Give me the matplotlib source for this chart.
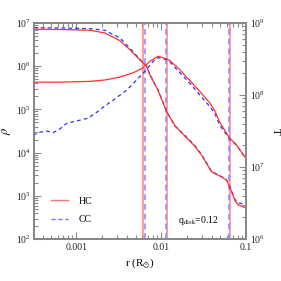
import numpy as np
import matplotlib
matplotlib.use("Agg")
import matplotlib.pyplot as plt
from matplotlib.lines import Line2D

plt.rcParams['font.family'] = ['Liberation Serif', 'DejaVu Serif']
plt.rcParams['mathtext.fontset'] = 'stix'

# density profiles (left axis)
r_rho = [3.16e-4, 6.41e-4, 1.45e-3, 2.17e-3, 3.27e-3, 4.29e-3, 5.62e-3, 6.75e-3,
         7.38e-3, 9.16e-3, 1.16e-2, 1.46e-2, 2.00e-2, 2.51e-2, 3.01e-2, 3.94e-2,
         5.16e-2, 5.92e-2, 6.47e-2, 7.41e-2, 8.11e-2, 9.29e-2, 0.1]
rho_hc = [7.2e6, 7.1e6, 6.8e6, 5.9e6, 3.9e6, 2.4e6, 1.4e6, 1.0e6,
          6.3e5, 2.8e5, 8.9e4, 4.2e4, 2.2e4, 1.4e4, 8.7e3, 3.6e3,
          2.75e3, 2.3e3, 1.6e3, 7.9e2, 6.2e2, 5.6e2, 5.2e2]
rho_cc = [7.8e6, 7.7e6, 7.4e6, 6.8e6, 4.5e6, 2.6e6, 1.45e6, 1.0e6,
          6.4e5, 2.9e5, 9.0e4, 4.1e4, 2.3e4, 1.45e4, 8.9e3, 3.7e3,
          2.8e3, 2.35e3, 1.65e3, 8.3e2, 6.9e2, 6.5e2, 6.3e2]

# temperature profiles (right axis)
r_t_hc = [3.16e-4, 6.41e-4, 1.45e-3, 2.17e-3, 3.27e-3, 4.69e-3, 6.15e-3, 7.38e-3,
          9.25e-3, 1.16e-2, 1.27e-2, 1.67e-2, 2.19e-2, 2.87e-2, 3.76e-2, 4.31e-2,
          4.93e-2, 5.92e-2, 6.47e-2, 7.76e-2, 0.1]
t_hc = [1.51e8, 1.51e8, 1.55e8, 1.62e8, 1.78e8, 2.04e8, 2.40e8, 2.95e8,
        3.47e8, 3.16e8, 3.02e8, 2.24e8, 1.58e8, 1.12e8, 7.76e7, 6.03e7,
        4.17e7, 2.95e7, 2.51e7, 2.04e7, 1.32e7]

r_t_cc = [3.10e-4, 3.56e-4, 4.47e-4, 5.35e-4, 6.41e-4, 7.69e-4, 1.01e-3, 1.38e-3,
          1.73e-3, 2.17e-3, 2.72e-3, 3.92e-3, 5.14e-3, 6.44e-3, 8.07e-3, 9.25e-3,
          1.16e-2, 1.27e-2, 1.67e-2, 2.19e-2, 2.87e-2, 3.76e-2, 4.31e-2, 4.93e-2,
          5.92e-2, 6.47e-2, 7.76e-2, 0.1]
t_cc = [2.75e7, 3.02e7, 3.16e7, 3.02e7, 3.39e7, 4.07e7, 4.37e7, 4.79e7,
        5.75e7, 7.08e7, 8.51e7, 1.17e8, 1.62e8, 2.14e8, 2.95e8, 3.31e8,
        3.09e8, 2.88e8, 2.04e8, 1.45e8, 1.0e8, 6.92e7, 5.50e7, 3.80e7,
        2.82e7, 2.45e7, 2.0e7, 1.32e7]

# vertical markers
vlines_hc = [6.15e-3, 1.17e-2, 6.47e-2]
vlines_cc = [6.44e-3, 1.15e-2, 6.38e-2]

grey = '#888888'
red = '#ff3030'
blue = '#3030ff'

fig = plt.figure(figsize=(2.81, 2.81), dpi=100)
ax = fig.add_axes([0.121, 0.149, 0.754, 0.769])
ax2 = ax.twinx()

for v in vlines_hc:
    ax.axvline(v, color='#ff7070', lw=1.2, alpha=0.8)
for v in vlines_cc:
    ax.axvline(v, color='#8888ff', lw=1.4, ls=(0, (3, 2)), alpha=0.8)

ax.plot(r_rho, rho_cc, color=blue, lw=0.9, ls=(0, (3, 2.5)))
ax.plot(r_rho, rho_hc, color=red, lw=0.9)
ax2.plot(r_t_cc, t_cc, color=blue, lw=0.9, ls=(0, (3, 2.5)))
ax2.plot(r_t_hc, t_hc, color=red, lw=0.9)

ax.set_xscale('log')
ax.set_yscale('log')
ax2.set_yscale('log')
ax.set_xlim(10**-3.5, 0.1)
ax.set_ylim(1e2, 1e7)
ax2.set_ylim(1e6, 1e9)

ax.set_xticks([0.001, 0.01, 0.1])
ax.set_xticklabels(['0.001', '0.01', '0.1'])

for a in (ax, ax2):
    for s in a.spines.values():
        s.set_color(grey)
        s.set_linewidth(1.3)
    a.tick_params(which='both', direction='in', color=grey, width=0.8,
                  labelsize=7, labelcolor='#222222')
    a.tick_params(which='major', length=5)
    a.tick_params(which='minor', length=3)
ax.tick_params(which='both', top=True, right=False)
ax.tick_params(axis='x', pad=3)
ax.tick_params(axis='y', pad=2)
ax2.tick_params(axis='y', pad=3)

ax.set_xlabel(r'r (R$_{\odot}$)', fontsize=8, labelpad=3)
ax.set_ylabel(r'$\rho$', fontsize=9, labelpad=2)
ax2.set_ylabel('T', fontsize=8, rotation=270, labelpad=11)

ax.text(0.68, 0.075, r'q$_{\rm disk}$=0.12', transform=ax.transAxes, fontsize=7)

handles = [Line2D([], [], color='#ff7070', lw=1.0),
           Line2D([], [], color='#7070ff', lw=1.0, ls=(0, (3, 2)))]
ax.legend(handles, ['HC', 'CC'], loc='lower left', bbox_to_anchor=(0.06, 0.05),
          frameon=False, fontsize=7, handlelength=1.8, handletextpad=1.1,
          labelspacing=1.0, borderaxespad=0)

fig.savefig('out.png', dpi=100)
